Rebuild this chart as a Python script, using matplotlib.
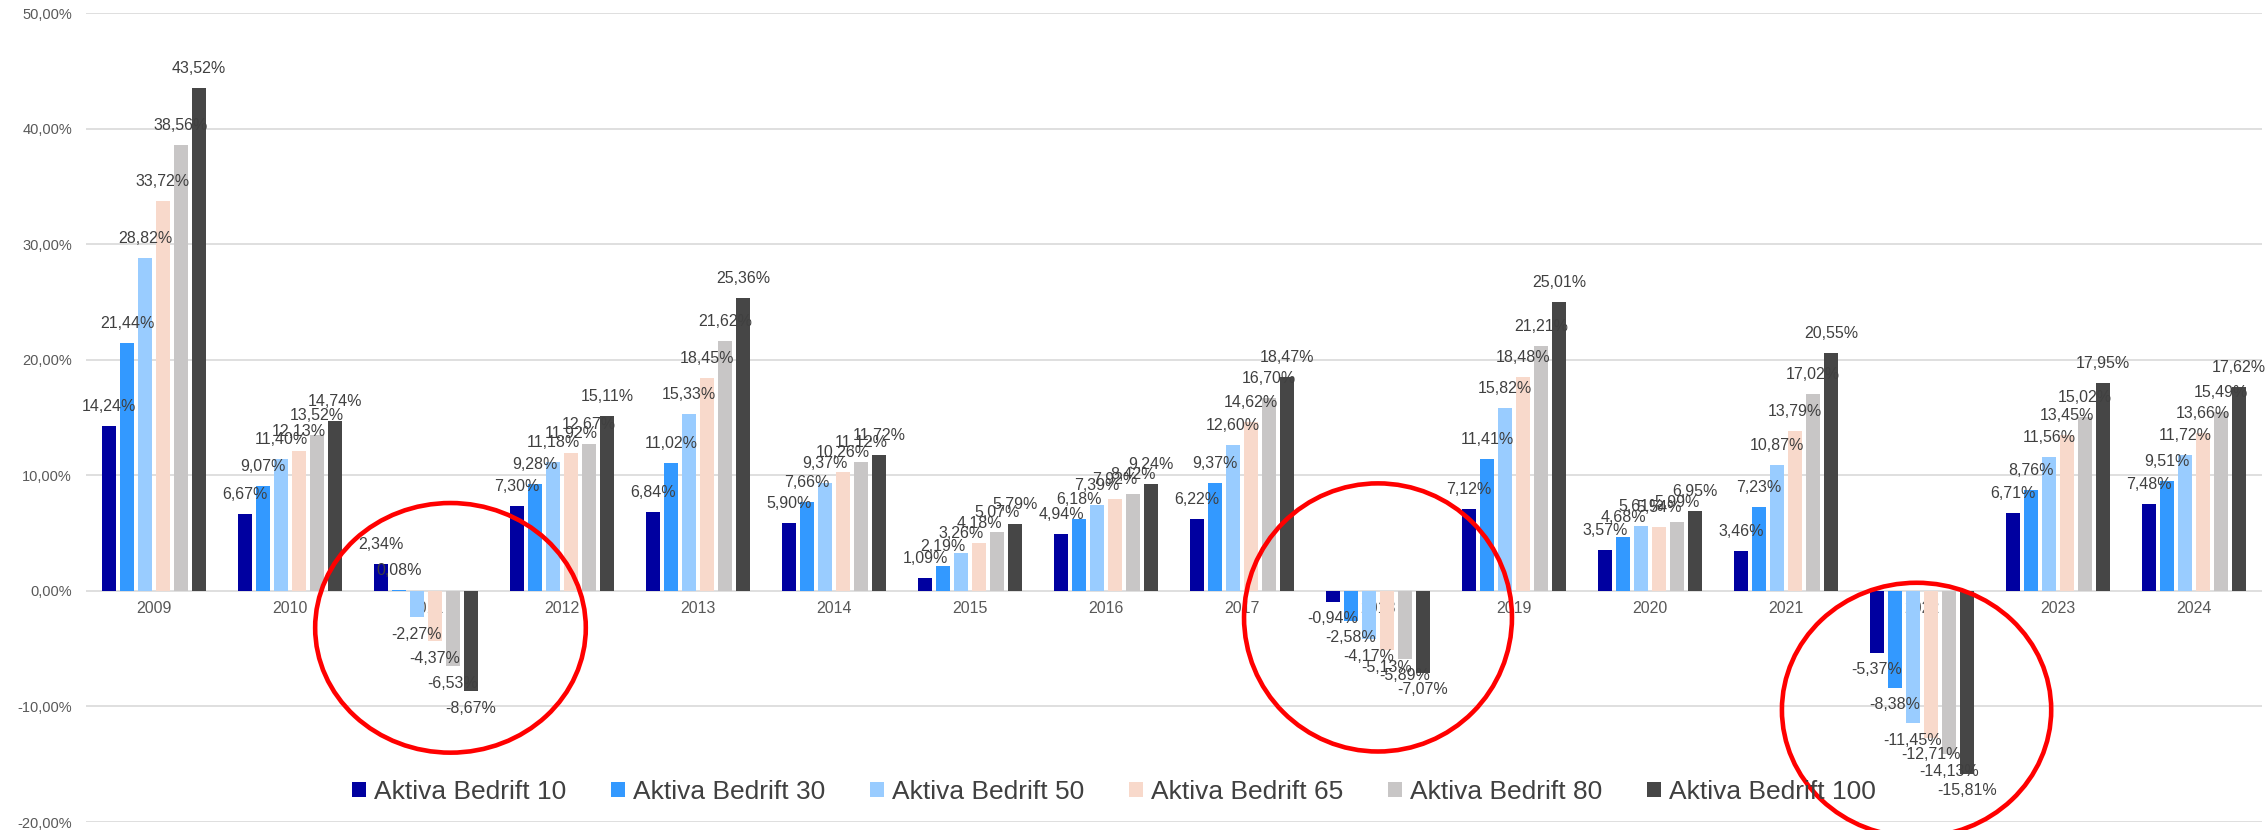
import matplotlib
matplotlib.use('Agg')
import matplotlib.pyplot as plt
from matplotlib.patches import Patch, Ellipse
import numpy as np

plt.rcParams['font.family'] = ['Liberation Sans', 'DejaVu Sans']

years = ['2009', '2010', '2011', '2012', '2013', '2014', '2015', '2016',
         '2017', '2018', '2019', '2020', '2021', '2022', '2023', '2024']
series_names = ['Aktiva Bedrift 10', 'Aktiva Bedrift 30', 'Aktiva Bedrift 50',
                'Aktiva Bedrift 65', 'Aktiva Bedrift 80', 'Aktiva Bedrift 100']
bedrift_10 = [14.24, 6.67, 2.34, 7.30, 6.84, 5.90, 1.09, 4.94, 6.22, -0.94, 7.12, 3.57, 3.46, -5.37, 6.71, 7.48]
bedrift_30 = [21.44, 9.07, 0.08, 9.28, 11.02, 7.66, 2.19, 6.18, 9.37, -2.58, 11.41, 4.68, 7.23, -8.38, 8.76, 9.51]
bedrift_50 = [28.82, 11.40, -2.27, 11.18, 15.33, 9.37, 3.26, 7.39, 12.60, -4.17, 15.82, 5.61, 10.87, -11.45, 11.56, 11.72]
bedrift_65 = [33.72, 12.13, -4.37, 11.92, 18.45, 10.26, 4.18, 7.92, 14.62, -5.13, 18.48, 5.54, 13.79, -12.71, 13.45, 13.66]
bedrift_80 = [38.56, 13.52, -6.53, 12.67, 21.62, 11.12, 5.07, 8.42, 16.70, -5.89, 21.21, 5.99, 17.02, -14.13, 15.02, 15.49]
bedrift_100 = [43.52, 14.74, -8.67, 15.11, 25.36, 11.72, 5.79, 9.24, 18.47, -7.07, 25.01, 6.95, 20.55, -15.81, 17.95, 17.62]
colors = ['#0000A0', '#3399FF', '#99CCFF', '#F8D9CB', '#C8C6C6', '#464646']

# circled years: (center x, center y, width, height) in data units
circles = [(2.18, -3.2, 1.99, 21.6), (9.0, -2.3, 1.97, 23.2), (12.96, -10.3, 1.98, 22.0)]

fig = plt.figure(figsize=(22.68, 8.3), dpi=100)
ax = fig.add_axes([86/2268, 1-822/830, (2262-86)/2268, (822-13)/830])

x = np.arange(len(years))
pitch = 18/136.
width = 14/136.
all_series = [bedrift_10, bedrift_30, bedrift_50, bedrift_65, bedrift_80, bedrift_100]
for k in range(len(all_series)):
	vals = all_series[k]
	xs = x + (k - 2.5)*pitch
	ax.bar(xs, vals, width, color=colors[k], zorder=2)
	for xi, v in zip(xs, vals):
		txt = ('%.2f%%' % v).replace('.', ',')
		if v >= 0:
			ax.annotate(txt, (xi, v), xytext=(0, 15), textcoords='offset pixels',
				ha='center', va='baseline', fontsize=11.5, color='#404040', zorder=4)
		else:
			ax.annotate(txt, (xi, v), xytext=(0, -17), textcoords='offset pixels',
				ha='center', va='center', fontsize=11.5, color='#404040', zorder=4)

# category labels sit right under the zero line, behind the bars
for i in range(len(years)):
	ax.annotate(years[i], (x[i], 0), xytext=(0, -18), textcoords='offset pixels',
		ha='center', va='center', fontsize=11.5, color='#595959', zorder=1)

ax.set_xlim(-0.5, len(years) - 0.5)
ax.set_ylim(-20, 50)
yt = np.arange(-20, 51, 10)
ax.set_yticks(yt)
ax.set_yticklabels([('%.2f%%' % v).replace('.', ',') for v in yt], fontsize=10.5, color='#595959')
ax.set_xticks([])
ax.tick_params(axis='y', length=0, pad=10)
ax.set_axisbelow(True)
ax.yaxis.grid(True, color='#D9D9D9', lw=1.2)
for s in ax.spines.values():
	s.set_visible(False)

for cx, cy, w, h in circles:
	ax.add_patch(Ellipse((cx, cy), w, h, fill=False, ec='#FF0000', lw=3.3, zorder=5, clip_on=False))

handles = [Patch(facecolor=c) for c in colors]
fig.legend(handles, series_names, loc='center', bbox_to_anchor=(1114/2268., 0.046),
	ncol=6, frameon=False, fontsize=19, handlelength=0.53, handleheight=0.53,
	handletextpad=0.3, columnspacing=1.7, labelcolor='#404040')

fig.savefig('out.png', dpi=100)
